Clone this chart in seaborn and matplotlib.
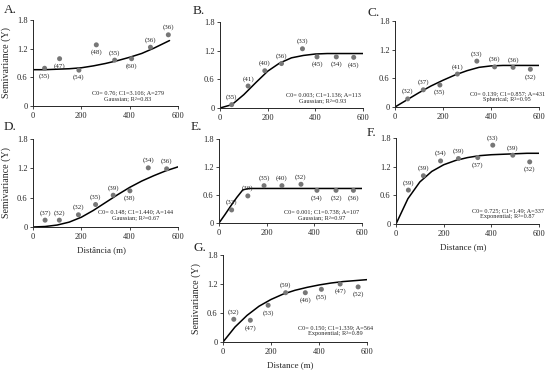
import numpy as np
import pandas as pd
import matplotlib
matplotlib.use("Agg")
import matplotlib.pyplot as plt
import seaborn as sns

# experimental semivariogram points (lag distance in m, semivariance, pairs)
lag_A = [48, 110, 190, 262, 338, 408, 486, 560]
gam_A = [0.79, 0.99, 0.75, 1.28, 0.96, 0.99, 1.23, 1.49]
npr_A = [35, 47, 54, 48, 35, 60, 36, 36]

lag_B = [49, 118, 188, 258, 346, 407, 488, 561]
gam_B = [0.07, 0.46, 0.78, 0.93, 1.24, 1.07, 1.07, 1.06]
npr_B = [35, 41, 40, 36, 33, 45, 34, 45]

lag_C = [53, 118, 187, 260, 341, 415, 492, 564]
gam_C = [0.17, 0.36, 0.46, 0.69, 0.96, 0.84, 0.83, 0.79]
npr_C = [32, 37, 35, 41, 33, 36, 36, 32]

lag_D = [50, 109, 188, 259, 332, 401, 477, 553]
gam_D = [0.14, 0.14, 0.25, 0.46, 0.65, 0.74, 1.21, 1.19]
npr_D = [37, 32, 32, 35, 39, 38, 34, 36]

lag_E = [53, 121, 189, 264, 344, 411, 491, 564]
gam_E = [0.28, 0.58, 0.80, 0.80, 0.83, 0.70, 0.70, 0.70]
npr_E = [33, 30, 35, 40, 32, 34, 32, 36]

lag_F = [52, 115, 187, 262, 343, 406, 490, 561]
gam_F = [0.71, 1.01, 1.32, 1.37, 1.39, 1.65, 1.44, 1.30]
npr_F = [39, 39, 34, 39, 37, 33, 39, 32]

lag_G = [45, 114, 188, 261, 343, 410, 488, 563]
gam_G = [0.47, 0.45, 0.76, 1.02, 1.02, 1.09, 1.20, 1.14]
npr_G = [32, 47, 53, 59, 46, 55, 47, 52]

# fitted model curves
crv_h = [0, 50, 100, 150, 200, 250, 300, 350, 400, 450, 500, 550, 600]
crv_hA = [0, 50, 100, 150, 200, 250, 300, 350, 400, 450, 500, 565]
crv_A = [0.76, 0.76, 0.77, 0.78, 0.80, 0.84, 0.89, 0.95, 1.02, 1.10, 1.21, 1.37]
crv_B = [0.0, 0.07, 0.28, 0.53, 0.77, 0.94, 1.05, 1.10, 1.13, 1.14, 1.14, 1.14, 1.14]
crv_C = [0.0, 0.15, 0.30, 0.44, 0.56, 0.67, 0.76, 0.83, 0.86, 0.87, 0.87, 0.87, 0.87]
crv_D = [0.0, 0.01, 0.04, 0.10, 0.20, 0.34, 0.50, 0.66, 0.81, 0.94, 1.05, 1.15, 1.23]
crv_hE = [0, 25, 50, 75, 100, 125, 150, 600]
crv_E = [0.0, 0.18, 0.37, 0.55, 0.71, 0.74, 0.74, 0.74]
crv_F = [0.0, 0.53, 0.88, 1.10, 1.24, 1.33, 1.39, 1.43, 1.45, 1.46, 1.47, 1.48, 1.48]
crv_G = [0.0, 0.31, 0.55, 0.74, 0.88, 0.99, 1.07, 1.13, 1.18, 1.22, 1.25, 1.27, 1.29]

model_txt = {
    'A': 'C0= 0.76; C1=3.106; A=279\nGaussian; R²=0.83',
    'B': 'C0= 0.003; C1=1.136; A=113\nGaussian; R²=0.93',
    'C': 'C0= 0.139; C1=0.857; A=431\nSpherical; R²=0.95',
    'D': 'C0= 0.148; C1=1.440; A=144\nGaussian; R²=0.67',
    'E': 'C0= 0.001; C1=0.738; A=107\nGaussian; R²=0.97',
    'F': 'C0= 0.725; C1=1.49; A=337\nExponential; R²=0.87',
    'G': 'C0= 0.150; C1=1.339; A=564\nExponential; R²=0.89',
}

# label placement of the pair counts: 'a' above, 'b' below
side = {
    'A': 'bbbbabaa', 'B': 'aaaaabbb', 'C': 'aabaaaab', 'D': 'aaaaabaa',
    'E': 'aaaaabbb', 'F': 'aaaabaab', 'G': 'abbabbbb',
}

sns.set_style("ticks")
plt.rcParams['font.family'] = ['Liberation Serif', 'DejaVu Serif']
plt.rcParams['mathtext.fontset'] = 'stix'

W, H = 550, 370
fig = plt.figure(figsize=(W / 100, H / 100), dpi=100)

# panel: (points, curve, axes box in px (left, right, top, bottom), text pos, letter pos, xlabel)
panels = {
    'A': (lag_A, gam_A, npr_A, crv_hA, crv_A, (33, 178, 20, 106), (0.655, 0.125), (4, 10), None),
    'B': (lag_B, gam_B, npr_B, crv_h, crv_B, (220, 363, 22, 108), (0.72, 0.125), (193, 11), None),
    'C': (lag_C, gam_C, npr_C, crv_h, crv_C, (395, 539, 21, 107), (0.78, 0.12), (367, 13), None),
    'D': (lag_D, gam_D, npr_D, crv_h, crv_D, (33, 178, 139, 227), (0.71, 0.145), (4, 127), 'Distância (m)'),
    'E': (lag_E, gam_E, npr_E, crv_hE, crv_E, (219, 362, 139, 223), (0.72, 0.105), (191, 127), None),
    'F': (lag_F, gam_F, npr_F, crv_h, crv_F, (396, 539, 138, 224), (0.78, 0.125), (367, 133), 'Distance (m)'),
    'G': (lag_G, gam_G, npr_G, crv_h, crv_G, (223, 367, 255, 342), (0.78, 0.135), (194, 248), 'Distance (m)'),
}

for key, (lx, gy, npr, ch, cg, box, tpos, lpos, xlab) in panels.items():
    l, r, t, b = box
    ax = fig.add_axes([l / W, 1 - b / H, (r - l) / W, (b - t) / H])

    sns.lineplot(x=ch, y=cg, ax=ax, color='black', linewidth=1.1, sort=False, estimator=None)
    pts = pd.DataFrame({'lag': lx, 'gamma': gy})
    sns.scatterplot(data=pts, x='lag', y='gamma', ax=ax, color='#777777', s=13,
                    edgecolor='none', zorder=3)

    for i in range(len(lx)):
        dy = 5.3 if side[key][i] == 'a' else -5.3
        ax.annotate('(' + str(npr[i]) + ')', (lx[i], gy[i]), xytext=(0, dy),
                    textcoords='offset points', ha='center', va='center', fontsize=5)

    ax.text(tpos[0], tpos[1], model_txt[key], transform=ax.transAxes, ha='center',
            va='center', multialignment='center', fontsize=4.5, linespacing=1.25)

    ax.set_xlim(0, 600)
    ax.set_ylim(0, 1.8)
    ax.set_xticks([0, 200, 400, 600])
    ax.set_yticks([0, 0.6, 1.2, 1.8])
    ax.set_yticklabels(['0', '0.6', '1.2', '1.8'])
    ax.tick_params(labelsize=6, length=2, width=0.6, pad=2)
    for sp in ['left', 'bottom']:
        ax.spines[sp].set_linewidth(0.7)
    sns.despine(ax=ax)

    if key in ('A', 'D', 'G'):
        ax.set_ylabel('Semivariance (Y)', fontsize=7.2)
        ax.yaxis.set_label_coords(-0.155, 0.5)
    else:
        ax.set_ylabel('')
    if xlab:
        ax.set_xlabel(xlab, fontsize=6.5)
        ax.xaxis.set_label_coords(0.47, -0.22)
    else:
        ax.set_xlabel('')

    fig.text(lpos[0] / W, 1 - lpos[1] / H, key + '.', fontsize=9.5, ha='left', va='center')

fig.savefig('out.png', dpi=100)
